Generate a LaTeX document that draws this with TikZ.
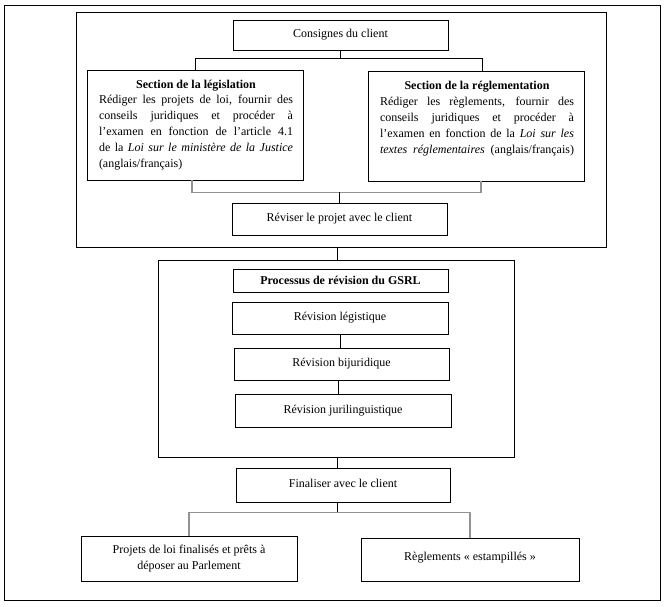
\documentclass[tikz,border=0pt]{standalone}
\usepackage{fontspec}
\setmainfont{Liberation Serif}
\usetikzlibrary{calc}
\newcommand\myfs{\fontsize{12}{15.8}\selectfont}
\newcommand\jline[1]{\makebox[194pt][s]{#1}\par}
\begin{document}
\begin{tikzpicture}[x=1pt,y=-1pt,
  box/.style={draw, line width=0.9pt, inner sep=0pt, font=\myfs},
  frame/.style={draw, line width=0.9pt, inner sep=0pt},
  link/.style={line width=0.9pt},
  glink/.style={line width=1.2pt, draw=gray!85}]
\useasboundingbox (0,0) rectangle (667,606);
% frames
\node[frame, minimum width=656pt, minimum height=595pt] (outer) at (332,302.5) {};
\node[frame, minimum width=530pt, minimum height=235pt] (f1) at (341,129.5) {};
\node[frame, minimum width=356pt, minimum height=197pt] (gsrl) at (336,358.5) {};
% boxes
\node[box, minimum width=215pt, minimum height=30pt] (cons) at (340.5,35) {\raisebox{1pt}{Consignes du client}};
\node[box, minimum width=216pt, minimum height=110pt] (leg) at (195,125) {};
\node[box, minimum width=216pt, minimum height=110pt] (regl) at (476,126) {};
\node[anchor=base, inner sep=0pt, font=\myfs] (legt) at (196,88) {\parbox[t]{194pt}{\baselineskip=15.8pt
  \makebox[194pt][c]{\bfseries Section de la législation}\par
  \jline{Rédiger les projets de loi, fournir des}
  \jline{conseils juridiques et procéder à}
  \jline{l’examen en fonction de l’article 4.1}
  \jline{de la \textit{Loi sur le ministère de la Justice}}
  \makebox[194pt][l]{(anglais/français)}}};
\node[anchor=base, inner sep=0pt, font=\myfs] (reglt) at (477,89) {\parbox[t]{194pt}{\baselineskip=16.2pt
  \makebox[194pt][c]{\bfseries Section de la réglementation}\par
  \jline{Rédiger les règlements, fournir des}
  \jline{conseils juridiques et procéder à}
  \jline{l’examen en fonction de la \textit{Loi sur les}}
  \jline{\textit{textes réglementaires} (anglais/français)}}};
\node[box, minimum width=215pt, minimum height=32pt] (rev) at (339.5,219) {\raisebox{2pt}{Réviser le projet avec le client}};
\node[box, minimum width=215pt, minimum height=23pt] (proc) at (340.5,280.5) {\bfseries Processus de révision du GSRL};
\node[box, minimum width=216pt, minimum height=32pt] (legi) at (340,318) {\raisebox{3pt}{Révision légistique}};
\node[box, minimum width=215pt, minimum height=32pt] (biju) at (341.5,364) {\raisebox{3pt}{Révision bijuridique}};
\node[box, minimum width=216pt, minimum height=33pt] (juri) at (343,410.5) {\raisebox{3pt}{Révision jurilinguistique}};
\node[box, minimum width=214pt, minimum height=34pt] (fin) at (343,485) {\raisebox{4pt}{Finaliser avec le client}};
\node[box, minimum width=216pt, minimum height=45pt, align=center] (proj) at (189,558.5) {Projets de loi finalisés et prêts à\\déposer au Parlement};
\node[box, minimum width=218pt, minimum height=43pt] (regs) at (470,559.5) {\raisebox{6pt}{Règlements «~estampillés~»}};
% connectors
\draw[link] (cons.south) -- ++(0,8) coordinate (j1);
\coordinate (rt) at ([xshift=6pt]regl.north);
\draw[link] (leg.north) |- (j1) -| (rt);
\coordinate (lb) at ([xshift=-3pt]leg.south);
\coordinate (rb) at ([xshift=5pt]regl.south);
\draw[glink] (lb) -- ++(0,12) coordinate (j2) -| (rb);
\draw[link] (rev.north) -- (rev.north |- j2);
\coordinate (fs) at ([xshift=-4pt]f1.south);
\draw[link] (fs) -- (fs |- gsrl.north);
\draw[link] (legi.south) -- (legi.south |- biju.north);
\draw[link] ([xshift=-3pt]biju.south) -- ([xshift=-3pt]biju.south |- juri.north);
\draw[link] ([xshift=1.5pt]gsrl.south) -- ([xshift=1.5pt]gsrl.south |- fin.north);
\coordinate (fb) at ([xshift=-6pt]fin.south);
\draw[link] (fb) -- ++(0,10) coordinate (j3);
\draw[glink] (proj.north) |- (j3) -| (regs.north);
\end{tikzpicture}
\end{document}
